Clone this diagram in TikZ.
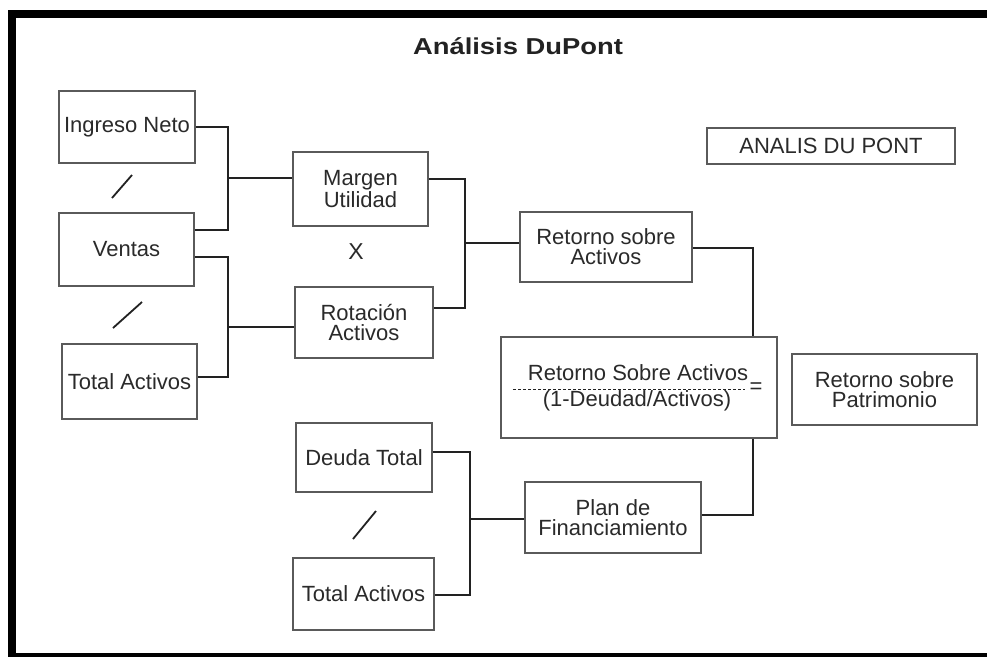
\documentclass[tikz,border=0pt]{standalone}
\usepackage{fontspec}
\usepackage{graphicx}
\setmainfont{Liberation Sans}
\definecolor{boxgray}{HTML}{5A5A5A}
\definecolor{linedark}{HTML}{222222}
\definecolor{txt}{HTML}{2A2A2A}
\begin{document}
\begin{tikzpicture}[x=1pt,y=-1pt,
  box/.style={draw=boxgray, line width=1.6pt, fill=white, inner sep=0pt, align=center,
    text=txt, font=\fontsize{22}{20}\selectfont},
  conn/.style={draw=linedark, line width=2pt},
  lbl/.style={inner sep=0pt, text=txt, font=\fontsize{22}{20}\selectfont}]
\useasboundingbox (0,0) rectangle (987,656);
\clip (0,0) rectangle (987,656);
\fill[white] (0,0) rectangle (987,656);
% frame (cut off on the right and bottom)
\draw[line width=8pt, black] (1010,14) -- (12,14) -- (12,657) -- (1010,657);
% title
\node[inner sep=0pt, text=linedark] (title) at (518,46)
  {\scalebox{1.19}[1.0]{\fontsize{23}{23}\selectfont\bfseries Análisis DuPont}};
% boxes
\node[box, minimum width=136pt, minimum height=72pt] (ing) at (127,127) {Ingreso Neto};
\node[box, minimum width=135pt, minimum height=73pt] (ven) at (126.5,249.5) {Ventas};
\node[box, minimum width=135pt, minimum height=75pt] (ta1) at (129.5,381.5) {Total Activos};
\node[box, minimum width=135pt, minimum height=74pt] (mar) at (360.5,189) {Margen\\Utilidad};
\node[box, minimum width=138pt, minimum height=71pt] (rot) at (364,322.5) {Rotación\\Activos};
\node[box, minimum width=172pt, minimum height=70pt] (rsa) at (606,247) {Retorno sobre\\Activos};
\node[box, minimum width=276pt, minimum height=101pt] (form) at (639,387.5) {};
\node[box, minimum width=185pt, minimum height=71pt] (rsp) at (884.5,389.5) {Retorno sobre\\Patrimonio};
\node[box, minimum width=248pt, minimum height=36pt] (anl) at (831,146) {ANALIS DU PONT};
\node[box, minimum width=136pt, minimum height=69pt] (deu) at (364,457.5) {Deuda Total};
\node[box, minimum width=141pt, minimum height=72pt] (ta2) at (363.5,594) {Total Activos};
\node[box, minimum width=176pt, minimum height=71pt] (plan) at (613,517.5) {Plan de\\Financiamiento};
% formula content
\node[lbl] (fnum) at (638,373) {Retorno Sobre Activos};
\node[lbl] (fden) at (637,401) {(1-Deudad/Activos)};
\draw[linedark, line width=1pt, dash pattern=on 3pt off 2pt] (513,389) -- (745,389);
\node[lbl] (feq) at (756,388) {=};
% operators
\node[lbl, font=\fontsize{23}{23}\selectfont] (times) at (356,252) {X};
\draw[conn, line width=1.8pt] (112,198) -- (132,175);
\draw[conn, line width=1.8pt] (113,328) -- (142,302);
\draw[conn, line width=1.8pt] (353,539) -- (376,511);
% junction coordinates
\coordinate (j1) at (228,178);
\coordinate (j2) at (228,327);
\coordinate (j3) at (465,243);
\coordinate (j4) at (470,519);
\coordinate (j5) at (753,248);
\coordinate (j6) at (753,515);
% connectors
\draw[conn] (ing.east) -| (j1) |- ([yshift=19.5pt]ven.east);
\draw[conn] (j1) -- (j1 -| mar.west);
\draw[conn] ([yshift=-7.5pt]ven.east) -| (j2) |- ([yshift=4.5pt]ta1.east);
\draw[conn] (j2) -- (j2 -| rot.west);
\draw[conn] ([yshift=10pt]mar.east) -| (j3) |- ([yshift=14.5pt]rot.east);
\draw[conn] (j3) -- (j3 -| rsa.west);
\draw[conn] ([yshift=-1pt]rsa.east) -- (j5) -- (j5 |- form.north);
\draw[conn] (j6 |- form.south) -- (j6) -- (j6 -| plan.east);
\draw[conn] ([yshift=5.5pt]deu.east) -| (j4) |- ([yshift=-1pt]ta2.east);
\draw[conn] (j4) -- (j4 -| plan.west);
\end{tikzpicture}
\end{document}
